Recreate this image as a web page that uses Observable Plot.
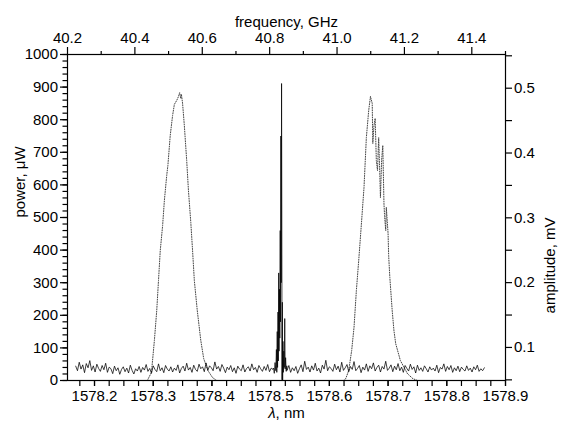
<!DOCTYPE html>
<html><head><meta charset="utf-8">
<script src="https://cdn.jsdelivr.net/npm/d3@7"></script>
<script src="https://cdn.jsdelivr.net/npm/@observablehq/plot@0.6"></script>
<style>body{margin:0;background:#fff}</style>
</head><body><div id="chart"></div>
<script>
// ---- data ----
const noiseStep = 0.003;
const noise1Start = 1578.168;
const noise1 = [
44,30,56,35,48,24,52,39,61,31,45,26,50,37,28,46,33,53,25,41,
36,21,44,30,39,19,34,42,27,38,23,47,31,20,36,29,43,25,40,32,
49,28,37,22,45,34,27,51,30,39,24,46,35,29,42,26,38,31,48,23,
37,44,29,53,32,40,25,47,34,28,50,36,42,27,54,31,45,39,30,57,
35,43,28,49,38,24,41,33,46,27,39,22,44,35,30,48,26,37,42,29,
51,33,40,25,46,36,28,43,31,49,27,38,34];
const noise2Start = 1578.528;
const noise2 = [
31,46,25,39,30,43,22,36,48,27,59,34,41,26,45,32,53,29,38,23,
47,35,62,30,42,37,28,50,33,44,26,56,31,39,49,27,43,34,58,30,
37,46,24,41,32,51,28,45,36,54,29,40,47,26,43,35,59,31,38,48,
27,44,33,52,30,41,25,46,37,29,50,34,42,23,47,31,39,28,45,36,
26,42,32,38,29,47,24,40,35,51,28,43,33,46,25,39,30,44,27,41,
34,29,45,31,38,26,42,33,47,28,36,30,39];
const spikeLambda = [1578.5050,1578.5062,1578.5075,1578.5088,1578.5098,1578.5105,1578.5112,1578.5118,
  1578.5125,1578.5131,1578.5137,1578.5143,1578.5150,1578.5156,1578.5163,1578.5168,1578.5174,1578.5180,
  1578.5186,1578.5190,1578.5194,1578.5199,1578.5204,1578.5210,1578.5216,1578.5224,1578.5232,1578.5240,
  1578.5247,1578.5255,1578.5265,1578.5275];
const spikePower = [38,22,55,30,95,25,150,40,210,60,330,90,280,130,460,180,750,300,911,520,2,240,0,120,25,90,40,190,35,70,28,45];

const peak1Lambda = [1578.290,1578.297,1578.302,1578.306,1578.309,1578.312,1578.316,1578.319,1578.323,1578.325,
  1578.329,1578.333,1578.336,1578.340,1578.343,1578.345,1578.347,1578.348,1578.350,1578.353,1578.357,1578.360,
  1578.364,1578.367,1578.370,1578.375,1578.381,1578.386,1578.393,1578.401,1578.408];
const peak1Power = [0,25,123,215,307,399,475,552,629,660,752,813,847,859,871,883,865,878,850,782,675,583,485,399,307,215,123,67,31,9,0];

const peak2Lambda = [1578.624,1578.628,1578.633,1578.638,1578.642,1578.646,1578.650,1578.655,1578.659,1578.663,1578.667,
  1578.670,1578.673,1578.674,1578.676,1578.678,1578.680,1578.682,1578.684,1578.686,1578.687,1578.689,1578.691,1578.693,
  1578.694,1578.696,1578.697,1578.700,1578.701,1578.703,1578.707,1578.710,1578.713,1578.721,1578.733,1578.742,1578.750];
const peak2Power = [0,6,31,92,163,276,368,491,592,745,828,871,850,727,782,804,675,644,745,629,561,675,721,543,
  506,460,531,451,383,316,215,153,113,61,21,6,0];

// ---- axes ----
const lambdaDomain = [1578.154, 1578.9];
const powerDomain = [0, 1000];
const freqDomain = [40.2, 41.5];
const ampDomain = [0.049, 0.552];
const lambdaTicks = [1578.2,1578.3,1578.4,1578.5,1578.6,1578.7,1578.8,1578.9];
const powerTicks = [0,100,200,300,400,500,600,700,800,900,1000];
const freqTicks = [40.2,40.4,40.6,40.8,41.0,41.2,41.4];
const ampTicks = [0.1,0.2,0.3,0.4,0.5];

const f2l = d3.scaleLinear().domain(freqDomain).range(lambdaDomain);
const a2p = d3.scaleLinear().domain(ampDomain).range(powerDomain);

const lambdaMinor = d3.range(1578.175, 1578.9001, 0.025);
const powerMinor = d3.range(0, 1000.01, 20);
const freqMinor = [40.3,40.5,40.7,40.9,41.1,41.3,41.5];
const ampMinor = [0.05,0.15,0.25,0.35,0.45,0.55];

const solid = [
  ...noise1.map((p,i)=>({l: noise1Start + i*noiseStep, p})),
  ...spikeLambda.map((l,i)=>({l, p: spikePower[i]})),
  ...noise2.map((p,i)=>({l: noise2Start + i*noiseStep, p}))
];
const peak1 = peak1Lambda.map((l,i)=>({l, p: peak1Power[i]}));
const peak2 = peak2Lambda.map((l,i)=>({l, p: peak2Power[i]}));

const fmt1 = d => (+d).toFixed(1);

const chart = Plot.plot({
  width: 563, height: 423,
  marginLeft: 67, marginRight: 58, marginTop: 54, marginBottom: 43,
  style: {fontFamily: "'Liberation Sans', Arial, sans-serif", fontSize: "15px", background: "white", color: "black"},
  x: {domain: lambdaDomain, label: null},
  y: {domain: powerDomain, label: null},
  marks: [
    Plot.line(peak1, {x: "l", y: "p", stroke: "#444", strokeWidth: 1, strokeDasharray: "0.9,1.5"}),
    Plot.line(peak2, {x: "l", y: "p", stroke: "#444", strokeWidth: 1, strokeDasharray: "0.9,1.5"}),
    Plot.line(solid, {x: "l", y: "p", stroke: "black", strokeWidth: 0.75}),
    Plot.frame({stroke: "black", strokeWidth: 1.2}),
    // bottom
    Plot.axisX(lambdaMinor, {anchor: "bottom", tickSize: 6, tickFormat: () => "", label: null, strokeWidth: 1.2}),
    Plot.axisX(lambdaTicks, {anchor: "bottom", tickSize: 6, tickPadding: 4, tickFormat: fmt1, label: null, strokeWidth: 1.2}),
    // top
    Plot.axisX(freqMinor.map(f2l), {anchor: "top", tickSize: 4, tickFormat: () => "", label: null, strokeWidth: 1.2}),
    Plot.axisX(freqTicks.map(f2l), {anchor: "top", tickSize: 8, tickPadding: 4, tickFormat: d => f2l.invert(d).toFixed(1), label: null, strokeWidth: 1.2}),
    // left
    Plot.axisY(powerMinor, {anchor: "left", tickSize: 4.5, tickFormat: () => "", label: null, strokeWidth: 1.2}),
    Plot.axisY(powerTicks, {anchor: "left", tickSize: 7, tickPadding: 2.5, tickFormat: d => String(d), label: null, strokeWidth: 1.2}),
    // right
    Plot.axisY(ampMinor.map(a2p), {anchor: "right", tickSize: 6, tickFormat: () => "", label: null, strokeWidth: 1.2}),
    Plot.axisY(ampTicks.map(a2p), {anchor: "right", tickSize: 6, tickPadding: 2.5, tickFormat: d => a2p.invert(d).toFixed(1), label: null, strokeWidth: 1.2}),
    // titles
    Plot.text(["frequency, GHz"], {text: d => d, frameAnchor: "top", dy: -38}),
    Plot.text(["λ, nm"], {text: d => d, frameAnchor: "bottom", dy: 37}),
    Plot.text(["power, μW"], {text: d => d, frameAnchor: "left", dx: -47, rotate: -90}),
    Plot.text(["amplitude, mV"], {text: d => d, frameAnchor: "right", dx: 45, rotate: -90})
  ]
});
document.getElementById("chart").appendChild(chart);
chart.querySelectorAll("text").forEach(t => {
  if (t.textContent === "λ, nm") {
    t.innerHTML = '<tspan font-style="italic">λ</tspan>, nm';
  }
});
</script>
</body></html>
